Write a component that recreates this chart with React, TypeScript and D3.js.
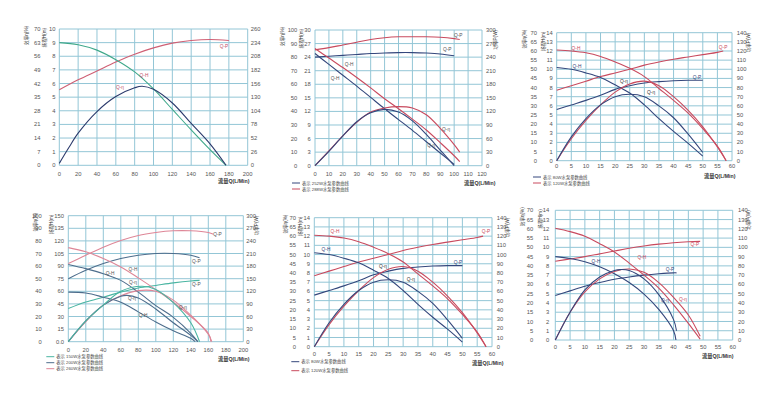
import React from 'react';
import * as d3 from 'd3';

// ---------------- DATA ----------------
// Panel 1 (single pump)
const p1FlowH = [0, 20, 40, 60, 80, 100, 120, 140, 160, 177];
const p1Head = [9.0, 8.85, 8.45, 7.75, 6.85, 5.6, 4.1, 2.6, 1.15, 0];
const p1FlowEff = [0, 10, 20, 40, 60, 80, 88, 100, 120, 140, 160, 177];
const p1Eff = [1, 9, 16.5, 27.6, 35.3, 39.8, 40.6, 39, 32, 21.5, 11, 0];
const p1FlowP = [0, 20, 40, 60, 80, 100, 120, 140, 160, 180];
const p1Power = [144, 163, 180, 197, 212, 224, 233, 238, 240, 238];

// Panel 2 (252W / 288W)
const p2Flow252 = [0, 10, 20, 30, 40, 50, 60, 70, 80, 90, 100];
const p2Head252 = [24.8, 22.4, 20.0, 17.6, 15.1, 12.6, 10.2, 7.8, 5.3, 2.8, 0.3];
const p2Power252 = [240, 242, 244, 246, 248, 249, 250, 250, 249, 247, 243];
const p2Eff252 = [0, 10.5, 21.9, 32.4, 39, 41.5, 39.5, 33, 23, 11.5, 0];
const p2Flow288 = [0, 10, 20, 30, 40, 50, 60, 70, 80, 90, 100, 104];
const p2Head288 = [25.9, 23.8, 21.7, 19.5, 17.2, 14.8, 12.6, 10.3, 7.9, 5.1, 2.2, 0.9];
const p2Power288 = [256, 261, 267, 273, 279, 283, 285, 285, 285, 284, 281, 279];
const p2Eff288 = [0, 11, 22, 32, 39.5, 42.5, 43.5, 42.5, 37.5, 27.5, 15.5, 10];

// Panels 3 & 5 (80W / 120W)
const flow80 = [0, 5, 10, 15, 20, 25, 30, 35, 40, 45, 50];
const head80 = [10.2, 10.0, 9.6, 9.1, 8.3, 7.4, 6.1, 4.6, 3.2, 1.9, 0.5];
const power80 = [56, 61, 66, 71.5, 78, 82, 85, 86.5, 87.5, 88, 88];
const eff80 = [0, 13, 23, 30.5, 35, 36.3, 35, 30, 23.5, 14.5, 4.5];
const flow120 = [0, 5, 10, 15, 20, 25, 30, 35, 40, 45, 50, 55, 58];
const head120 = [12.1, 12.0, 11.8, 11.4, 10.8, 10.1, 9.2, 7.9, 6.6, 5.2, 3.5, 1.6, 0];
const eff120 = [0, 12, 22, 30.5, 37.5, 42, 43.5, 41, 35, 27.5, 18.5, 7.5, 0];
const flow120P = [0, 5, 10, 15, 20, 25, 30, 35, 40, 45, 50, 55, 57];
const power120 = [77, 82, 87, 92, 96, 100, 104.5, 108, 111, 113.5, 116, 118.5, 120];

// Panel 4 (150W / 200W / 260W)
const p4Flow260H = [0, 20, 40, 60, 80, 100, 120, 140, 160, 163];
const p4Head260 = [112, 107, 99, 89, 76, 62, 47, 30, 10, 0];
const p4Flow260P = [0, 20, 40, 60, 80, 100, 120, 140, 160, 166];
const p4Power260 = [186, 206, 225, 241, 253, 260, 264, 264, 260, 256];
const p4Flow260E = [0, 20, 40, 60, 80, 100, 120, 140, 160, 164];
const p4Eff260 = [0, 16, 29, 36.5, 40.5, 40, 33, 21, 6, 0];
const p4Flow200H = [0, 20, 40, 60, 80, 100, 120, 140, 148];
const p4Head200 = [92, 87, 81, 73, 59, 43, 29, 10, 0];
const p4Flow200P = [0, 20, 40, 60, 80, 100, 120, 140, 150];
const p4Power200 = [150, 170, 186, 198, 206, 210, 210, 206, 200];
const p4Flow200E = [0, 20, 40, 60, 67, 80, 100, 120, 140, 148];
const p4Eff200 = [0, 16.5, 29, 36, 36.8, 34.7, 26, 15, 5, 0];
const p4Flow150H = [0, 20, 40, 60, 80, 100, 120, 140, 145];
const p4Head150 = [59, 58, 53, 47, 35.5, 23.5, 13, 4, 0];
const p4Flow150P = [0, 20, 40, 60, 80, 100, 120, 140, 150];
const p4Power150 = [79, 94.5, 106, 118, 128, 134, 140, 144.6, 146];
const p4Flow150E = [0, 20, 40, 60, 84, 100, 120, 140, 150];
const p4Eff150 = [0, 16.5, 29, 40, 44, 41.5, 31, 15, 0];

// Panel 6
const p6FlowB = [0, 5, 10, 15, 20, 25, 30, 35, 40, 40.8];
const p6HeadB = [9.0, 8.8, 8.45, 7.9, 7.15, 6.2, 4.95, 3.3, 1.0, 0];
const p6FlowBP = [0, 5, 10, 15, 20, 25, 30, 35, 40, 41];
const p6PowerB = [48, 53, 58, 62, 65.5, 68, 70, 71.5, 72.5, 72.5];
const p6FlowBE = [0, 5, 10, 15, 20, 22, 25, 30, 35, 40, 41];
const p6EffB = [0, 15, 27, 34, 37.5, 38, 37.5, 33, 24.5, 11, 5];
const p6FlowR = [0, 5, 10, 15, 20, 25, 30, 35, 40, 45, 49];
const p6HeadR = [12.06, 11.7, 11.2, 10.4, 9.5, 8.3, 7.0, 5.6, 3.8, 1.8, 0.1];
const p6PowerR = [85, 87.5, 90, 93, 96, 99, 101.5, 103.5, 105, 106, 106.5];
const p6EffR = [0, 15, 26, 33, 37, 38.3, 36.5, 31, 23, 13.5, 2];

// Axis domains [xMax, xStep, effMax, headMax, powerMax, rows]
const p1Axes = [200, 20, 70, 10, 260, 10];
const p2Axes = [120, 10, 100, 30, 300, 10];
const p3Axes = [60, 5, 70, 14, 140, 14];
const p4Axes = [200, 20, 100, 150, 300, 10];

// Text
const effTitle = '效率η(%)';
const headTitle = '扬程H(m)';
const powerTitle = '功率P(W)';
const flowTitle = '流量Q(L/Min)';
const legend2 = ['表示 252W水泵参数曲线', '表示 288W水泵参数曲线'];
const legend80 = ['表示 80W水泵参数曲线', '表示 120W水泵参数曲线'];
const legend4 = ['表示 150W水泵参数曲线', '表示 200W水泵参数曲线', '表示 260W水泵参数曲线'];

// Curve labels: [text, flow, head-units]
const p1Labels: [string, number, number][] = [['Q-P', 174.8, 8.75], ['Q-H', 89.9, 6.63], ['Q-η', 64.4, 5.7]];
const p2Labels: [string, number, number][] = [['Q-P', 102.9, 28.9], ['Q-P', 95, 25.8], ['Q-H', 24.5, 22.5], ['Q-H', 14.4, 19.4], ['Q-η', 94.2, 8.1], ['Q-η', 83.5, 4.4]];
const p3Labels: [string, number, number][] = [['Q-H', 6.6, 12.3], ['Q-H', 6.95, 10.36], ['Q-η', 23, 8.7], ['Q-η', 32.3, 7.5], ['Q-P', 56.95, 12.4], ['Q-P', 48.04, 9.16]];
const p5Labels: [string, number, number][] = [['Q-H', 6.99, 12.48], ['Q-H', 3.95, 10.57], ['Q-η', 23.2, 8.68], ['Q-η', 32.6, 7.35], ['Q-P', 57.96, 12.48], ['Q-P', 48.5, 9.16]];
const p6Labels: [string, number, number][] = [['Q-H', 13.76, 8.53], ['Q-H', 29.3, 8.88], ['Q-P', 38.8, 7.66], ['Q-η', 37.1, 4.32], ['Q-η', 43.2, 4.43], ['Q-P', 47.2, 10.33]];
const p4Labels: [string, number, number][] = [['Q-H', 47.7, 81], ['Q-H', 73.9, 86.2], ['Q-η', 73.9, 71], ['Q-η', 72.8, 51.2], ['Q-H', 85.4, 31.4], ['Q-P', 170.5, 127.9], ['Q-P', 146.3, 95.7], ['Q-P', 146.3, 68.3], ['Q-η', 131, 40.5]];

// ---------------- STYLE ----------------
const FONT = "'Liberation Sans', Arial, 'Noto Sans CJK SC', sans-serif";
const GRID = '#93c6d6';
const BLUE = '#34477c';
const RED = '#c94a5e';
const GREEN = '#3fa88a';
const NAVY = '#2b3a6c';
const PINK = '#de8697';
const SLATE = '#4d6d8c';
const TEAL = '#4ab5a2';
const TICK = '#555';

type Axis = 'eff' | 'head' | 'power';
type Curve = { q: number[]; v: number[]; axis: Axis; color: string };
type Cfg = {
  box: [number, number, number, number];
  axes: number[];
  headFmt?: (v: number) => string;
  dx: { eff: number; head: number; effT: number; headT: number; pow: number; powT: number | null };
  xLabelDy: number;
  flowPos: [number, number];
  legend?: { names: string[]; colors: string[]; y: number; dy: number; dx: number };
  curves: Curve[];
  labels: [string, number, number][];
  labelColors: string[];
};

function Panel({ c }: { c: Cfg }) {
  const [left, right, top, bottom] = c.box;
  const [xMax, xStep, effMax, headMax, powMax, rows] = c.axes;
  const x = d3.scaleLinear().domain([0, xMax]).range([left, right]);
  const yEff = d3.scaleLinear().domain([0, effMax]).range([bottom, top]);
  const yHead = d3.scaleLinear().domain([0, headMax]).range([bottom, top]);
  const yPow = d3.scaleLinear().domain([0, powMax]).range([bottom, top]);
  const ys: Record<Axis, d3.ScaleLinear<number, number>> = { eff: yEff, head: yHead, power: yPow };
  const xTicks = d3.range(0, xMax + 1e-9, xStep);
  const rowIdx = d3.range(0, rows + 1);
  const fmt = (v: number) => String(Math.round(v * 100) / 100);
  const hf = c.headFmt || fmt;
  const midY = (top + bottom) / 2;
  return (
    <g>
      {xTicks.map((t) => (
        <line key={'vx' + t} x1={x(t)} x2={x(t)} y1={top} y2={bottom} stroke={GRID} strokeWidth={1} />
      ))}
      {rowIdx.map((i) => {
        const yy = yHead((i * headMax) / rows);
        return <line key={'hy' + i} x1={left} x2={right} y1={yy} y2={yy} stroke={GRID} strokeWidth={1} />;
      })}
      {c.curves.map((cv, i) => {
        const pts = cv.q.map((q, j) => [q, cv.v[j]] as [number, number]);
        const line = d3
          .line<[number, number]>()
          .x((d) => x(d[0]))
          .y((d) => ys[cv.axis](d[1]))
          .curve(d3.curveCatmullRom.alpha(0.5));
        return <path key={'c' + i} d={line(pts) || ''} fill="none" stroke={cv.color} strokeWidth={1.1} />;
      })}
      {xTicks.map((t) => (
        <text key={'xt' + t} x={x(t)} y={bottom + c.xLabelDy} fontSize={5.8} fill={TICK} textAnchor="middle">
          {fmt(t)}
        </text>
      ))}
      {rowIdx.map((i) => {
        const yy = yHead((i * headMax) / rows);
        return (
          <g key={'yl' + i}>
            <text x={left + c.dx.eff} y={yy} dy="0.35em" fontSize={5.8} fill={TICK} textAnchor="end">
              {fmt((i * effMax) / rows)}
            </text>
            <text x={left + c.dx.head} y={yy} dy="0.35em" fontSize={5.8} fill={TICK} textAnchor="end">
              {hf((i * headMax) / rows)}
            </text>
            <text x={right + c.dx.pow} y={yy} dy="0.35em" fontSize={5.8} fill={TICK} textAnchor="start">
              {fmt((i * powMax) / rows)}
            </text>
          </g>
        );
      })}
      <text transform={`translate(${left + c.dx.effT},${top - 3}) rotate(-90)`} fontSize={4.6} fill="#333" textAnchor="end">
        {effTitle}
      </text>
      <text transform={`translate(${left + c.dx.headT},${top - 1}) rotate(-90)`} fontSize={4.6} fill="#333" textAnchor="end">
        {headTitle}
      </text>
      {c.dx.powT !== null && (
        <text transform={`translate(${right + (c.dx.powT as number)},${top}) rotate(-90)`} fontSize={4.6} fill="#333" textAnchor="end">
          {powerTitle}
        </text>
      )}
      <text x={c.flowPos[0]} y={c.flowPos[1]} fontSize={5.2} fill="#333" fontWeight="bold">
        {flowTitle}
      </text>
      {c.labels.map((l, i) => (
        <text key={'lb' + i} x={x(l[1])} y={yHead(l[2])} dy="0.35em" fontSize={4.8} fill={c.labelColors[i] || '#555'} textAnchor="middle">
          {l[0]}
        </text>
      ))}
      {c.legend &&
        c.legend.names.map((n, i) => {
          const lg = c.legend!;
          const yy = lg.y + i * lg.dy;
          return (
            <g key={'lg' + i}>
              <line x1={left + lg.dx} x2={left + lg.dx + 8} y1={yy} y2={yy} stroke={lg.colors[i]} strokeWidth={1} />
              <text x={left + lg.dx + 10} y={yy} dy="0.35em" fontSize={4.3} fill="#444">
                {n}
              </text>
            </g>
          );
        })}
      {midY < 0 && null}
    </g>
  );
}

export default function App() {
  const panels: Cfg[] = [
    {
      box: [59.3, 247.7, 29, 165.3],
      axes: p1Axes,
      dx: { eff: -18.8, head: -3.8, effT: -31, headT: -13.5, pow: 3, powT: null },
      xLabelDy: 10.3,
      flowPos: [218, 183],
      curves: [
        { q: p1FlowP, v: p1Power, axis: 'power', color: '#cf5f74' },
        { q: p1FlowH, v: p1Head, axis: 'head', color: GREEN },
        { q: p1FlowEff, v: p1Eff, axis: 'eff', color: NAVY },
      ],
      labels: p1Labels,
      labelColors: ['#c0506a', '#c0506a', '#c0506a'],
    },
    {
      box: [315, 482, 30, 165.7],
      axes: p2Axes,
      dx: { eff: -17.7, head: -4.3, effT: -31, headT: -12.5, pow: 4, powT: 15 },
      xLabelDy: 9.8,
      flowPos: [464, 185],
      legend: { names: legend2, colors: [BLUE, RED], y: 183, dy: 6, dx: -23 },
      curves: [
        { q: p2Flow288, v: p2Power288, axis: 'power', color: RED },
        { q: p2Flow252, v: p2Power252, axis: 'power', color: BLUE },
        { q: p2Flow288, v: p2Head288, axis: 'head', color: RED },
        { q: p2Flow252, v: p2Head252, axis: 'head', color: BLUE },
        { q: p2Flow288, v: p2Eff288, axis: 'eff', color: RED },
        { q: p2Flow252, v: p2Eff252, axis: 'eff', color: BLUE },
      ],
      labels: p2Labels,
      labelColors: ['#555', '#555', '#555', '#555', '#555', '#555'],
    },
    {
      box: [556.7, 732, 32.7, 160.7],
      axes: p3Axes,
      dx: { eff: -19.7, head: -4, effT: -31, headT: -11.7, pow: 4.7, powT: 18 },
      xLabelDy: 6.8,
      flowPos: [704, 178],
      legend: { names: legend80, colors: [BLUE, RED], y: 177, dy: 6, dx: -23.7 },
      curves: [
        { q: flow120P, v: power120, axis: 'power', color: RED },
        { q: flow80, v: power80, axis: 'power', color: BLUE },
        { q: flow120, v: head120, axis: 'head', color: RED },
        { q: flow80, v: head80, axis: 'head', color: BLUE },
        { q: flow120, v: eff120, axis: 'eff', color: RED },
        { q: flow80, v: eff80, axis: 'eff', color: BLUE },
      ],
      labels: p3Labels,
      labelColors: [RED, BLUE, '#333', '#333', RED, BLUE],
    },
    {
      box: [68.3, 243.3, 215.7, 341.7],
      axes: p4Axes,
      headFmt: (v: number) => (v === 0 ? '0.0' : String(v)),
      dx: { eff: -26.6, head: -4.3, effT: -31, headT: -15, pow: 3, powT: 15 },
      xLabelDy: 9.8,
      flowPos: [218, 361],
      legend: { names: legend4, colors: [TEAL, SLATE, PINK], y: 356.7, dy: 6, dx: -22 },
      curves: [
        { q: p4Flow260P, v: p4Power260, axis: 'power', color: PINK },
        { q: p4Flow200P, v: p4Power200, axis: 'power', color: SLATE },
        { q: p4Flow150P, v: p4Power150, axis: 'power', color: TEAL },
        { q: p4Flow260H, v: p4Head260, axis: 'head', color: PINK },
        { q: p4Flow200H, v: p4Head200, axis: 'head', color: SLATE },
        { q: p4Flow150H, v: p4Head150, axis: 'head', color: SLATE },
        { q: p4Flow260E, v: p4Eff260, axis: 'eff', color: PINK },
        { q: p4Flow200E, v: p4Eff200, axis: 'eff', color: SLATE },
        { q: p4Flow150E, v: p4Eff150, axis: 'eff', color: TEAL },
      ],
      labels: p4Labels,
      labelColors: [],
    },
    {
      box: [314.3, 492, 217.7, 346.7],
      axes: p3Axes,
      dx: { eff: -18.3, head: -4.3, effT: -27, headT: -12, pow: 4.7, powT: 17 },
      xLabelDy: 8.8,
      flowPos: [472, 365],
      legend: { names: legend80, colors: [BLUE, RED], y: 361.7, dy: 9, dx: -23 },
      curves: [
        { q: flow120P, v: power120, axis: 'power', color: RED },
        { q: flow80, v: power80, axis: 'power', color: BLUE },
        { q: flow120, v: head120, axis: 'head', color: RED },
        { q: flow80, v: head80, axis: 'head', color: BLUE },
        { q: flow120, v: eff120, axis: 'eff', color: RED },
        { q: flow80, v: eff80, axis: 'eff', color: BLUE },
      ],
      labels: p5Labels,
      labelColors: [RED, BLUE, '#333', '#333', RED, BLUE],
    },
    {
      box: [555.3, 732.7, 210.3, 340],
      axes: p3Axes,
      dx: { eff: -22, head: -6, effT: -31, headT: -13.6, pow: 5.3, powT: 17 },
      xLabelDy: 8.5,
      flowPos: [702, 358],
      curves: [
        { q: p6FlowR, v: p6PowerR, axis: 'power', color: RED },
        { q: p6FlowBP, v: p6PowerB, axis: 'power', color: BLUE },
        { q: p6FlowR, v: p6HeadR, axis: 'head', color: RED },
        { q: p6FlowB, v: p6HeadB, axis: 'head', color: BLUE },
        { q: p6FlowR, v: p6EffR, axis: 'eff', color: RED },
        { q: p6FlowBE, v: p6EffB, axis: 'eff', color: BLUE },
      ],
      labels: p6Labels,
      labelColors: [BLUE, RED, BLUE, BLUE, RED, RED],
    },
  ];
  return (
    <svg
      width={777}
      height={399}
      viewBox="0 0 777 399"
      style={{ position: 'absolute', left: 0, top: 0, background: '#fff', fontFamily: FONT }}
    >
      <rect x={0} y={0} width={777} height={399} fill="#fff" />
      {panels.map((p, i) => (
        <Panel key={i} c={p} />
      ))}
    </svg>
  );
}
